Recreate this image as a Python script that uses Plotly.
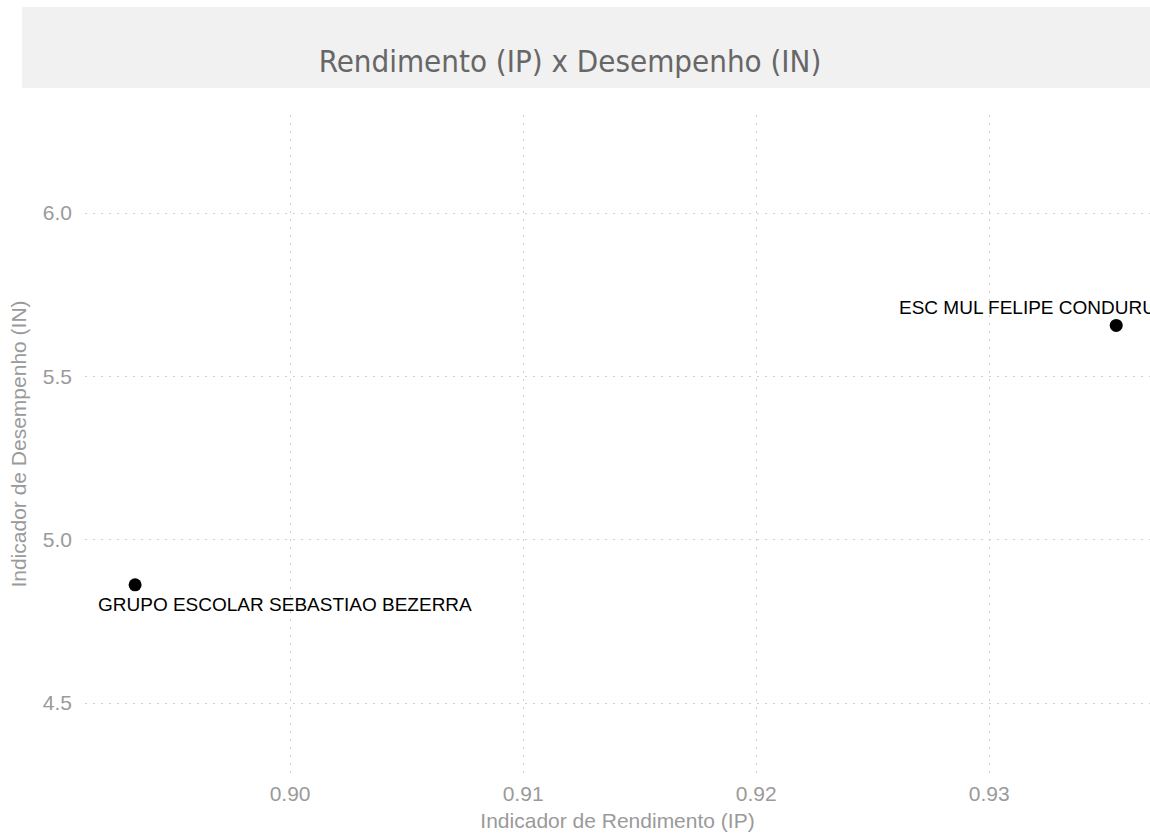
import plotly.graph_objects as go

# data
escolas = ["GRUPO ESCOLAR SEBASTIAO BEZERRA", "ESC MUL FELIPE CONDURU"]
ip = [0.89335, 0.93545]   # Indicador de Rendimento
in_ = [4.862, 5.656]      # Indicador de Desempenho

x_ticks = [0.90, 0.91, 0.92, 0.93]
y_ticks = [4.5, 5.0, 5.5, 6.0]

grey = "#9a9a9a"
grid = "#cfcfcf"
base_font = "Liberation Sans, Arial, sans-serif"

fig = go.Figure(go.Scatter(
    x=ip, y=in_, mode="markers",
    marker=dict(color="black", size=13),
    hoverinfo="skip", showlegend=False,
))

# labels: first one below-left of its point, second one above-left
shifts = [(-39, -20), (-219, 18)]
for name, xv, yv, (dx, dy) in zip(escolas, ip, in_, shifts):
    fig.add_annotation(
        x=xv, y=yv, text=name, showarrow=False,
        xanchor="left", yanchor="middle", xshift=dx, yshift=dy,
        font=dict(family=base_font, size=19, color="black"),
    )

# grey title band
fig.add_shape(type="rect", xref="paper", yref="paper",
              x0=-0.0592, x1=1.0, y0=1.041, y1=1.1641,
              fillcolor="#f1f1f1", line_width=0, layer="below")

fig.update_layout(
    width=1150, height=834,
    margin=dict(l=85, r=0, t=115, b=61),
    paper_bgcolor="white", plot_bgcolor="white",
    title=dict(
        text="Rendimento (IP) x Desempenho (IN)",
        x=570 / 1150, xanchor="center", y=1 - 61 / 834, yanchor="middle",
        font=dict(family="DejaVu Sans Condensed, Liberation Sans Narrow, sans-serif",
                  size=31, color="#676767"),
    ),
    font=dict(family=base_font, color=grey),
)

fig.update_xaxes(
    range=[0.8912, 0.9369], tickvals=x_ticks, ticktext=[f"{v:.2f}" for v in x_ticks],
    showgrid=True, gridcolor=grid, griddash="2px,6px", gridwidth=1,
    zeroline=False, showline=False, ticks="", ticklabelstandoff=6,
    tickfont=dict(size=21, color=grey),
    title=dict(text="Indicador de Rendimento (IP)", font=dict(size=21, color=grey), standoff=9),
)
fig.update_yaxes(
    range=[4.286, 6.30], tickvals=y_ticks, ticktext=[f"{v:.1f}" for v in y_ticks],
    showgrid=True, gridcolor=grid, griddash="2px,6px", gridwidth=1,
    zeroline=False, showline=False, ticks="", ticklabelstandoff=12,
    tickfont=dict(size=21, color=grey),
    title=dict(text="Indicador de Desempenho (IN)", font=dict(size=21, color=grey), standoff=10),
)

# drop the default body margin so the figure fills the window exactly
fig.write_html("out.html", config={"displayModeBar": False},
               post_script="document.body.style.margin = '0';")
